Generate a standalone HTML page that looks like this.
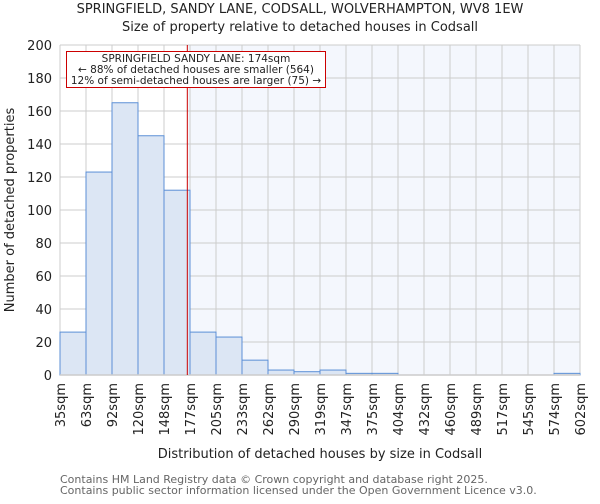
<!DOCTYPE html>
<html><head><meta charset="utf-8"><style>
body{margin:0;background:#fff;font-family:"DejaVu Sans","Liberation Sans",sans-serif}
</style></head><body>
<svg width="600" height="500" xmlns="http://www.w3.org/2000/svg" style="font-family:'DejaVu Sans','Liberation Sans',sans-serif">
<text x="300" y="13" text-anchor="middle" font-size="13" fill="#222">SPRINGFIELD, SANDY LANE, CODSALL, WOLVERHAMPTON, WV8 1EW</text>
<text x="300" y="31" text-anchor="middle" font-size="13" fill="#222">Size of property relative to detached houses in Codsall</text>
<g id="plot"></g>
<text transform="translate(14,210) rotate(-90)" text-anchor="middle" font-size="13" fill="#222">Number of detached properties</text>
<text x="320" y="458" text-anchor="middle" font-size="13" fill="#222">Distribution of detached houses by size in Codsall</text>
<text x="60" y="483" font-size="11" fill="#666">Contains HM Land Registry data © Crown copyright and database right 2025.</text>
<text x="60" y="494" font-size="11" fill="#666">Contains public sector information licensed under the Open Government Licence v3.0.</text>
</svg>
<script>
const binLabels=["35sqm","63sqm","92sqm","120sqm","148sqm","177sqm","205sqm","233sqm","262sqm","290sqm","319sqm","347sqm","375sqm","404sqm","432sqm","460sqm","489sqm","517sqm","545sqm","574sqm","602sqm"];
const binEdges=[35,63,92,120,148,177,205,233,262,290,319,347,375,404,432,460,489,517,545,574,602];
const counts=[26,123,165,145,112,26,23,9,3,2,3,1,1,0,0,0,0,0,0,1];
const yTicks=[0,20,40,60,80,100,120,140,160,180,200];
const markerValue=174;
const NS="http://www.w3.org/2000/svg";
const L=60,R=580,T=45,B=375;
const n=counts.length;
function xIdx(i){return L+(R-L)*i/n;}
function xVal(v){for(let i=0;i<binEdges.length-1;i++){if(v<=binEdges[i+1])return xIdx(i)+(xIdx(i+1)-xIdx(i))*(v-binEdges[i])/(binEdges[i+1]-binEdges[i]);}return R;}
function y(v){return B-(B-T)*v/200;}
const g=document.getElementById('plot');
function mk(tag,attrs){const e=document.createElementNS(NS,tag);for(const k in attrs)e.setAttribute(k,attrs[k]);g.appendChild(e);return e;}
const mx=xVal(markerValue);
let e=mk('rect',{x:mx,y:T,width:R-mx,height:B-T,fill:'#f4f7fd'});


yTicks.forEach(t=>{const l=mk('line',{x1:L,x2:R,y1:y(t),y2:y(t),stroke:'#cccccc','stroke-width':1});


const tx=mk('text',{x:L-8,y:y(t)+5,'text-anchor':'end','font-size':13,fill:'#222'});tx.textContent=t;

});
binLabels.forEach((s,i)=>{const x=xIdx(i);const l=mk('line',{x1:x,x2:x,y1:T,y2:B,stroke:'#cccccc','stroke-width':1});


const tx=mk('text',{transform:`translate(${x+5},${B+8}) rotate(-90)`,'text-anchor':'end','font-size':13,fill:'#222'});tx.textContent=s;

});
counts.forEach((c,i)=>{const r=mk('rect',{x:xIdx(i),y:y(c),width:xIdx(i+1)-xIdx(i),height:B-y(c),fill:'#dce6f4',stroke:'#5b8fd6','stroke-width':1});

});
e=mk('line',{x1:L,x2:R,y1:B,y2:B,stroke:'#cccccc','stroke-width':1.5});


e=mk('line',{x1:mx,x2:mx,y1:T,y2:B,stroke:'#cc0000','stroke-width':1});


e=mk('rect',{x:66.5,y:51.5,width:259,height:36,fill:'#fff',stroke:'#cc0000','stroke-width':1});


["SPRINGFIELD SANDY LANE: 174sqm","← 88% of detached houses are smaller (564)","12% of semi-detached houses are larger (75) →"].forEach((s,i)=>{const t=mk('text',{x:196,y:62+i*11,'text-anchor':'middle','font-size':10.5,fill:'#222'});t.textContent=s;

});
</script>
</body></html>
